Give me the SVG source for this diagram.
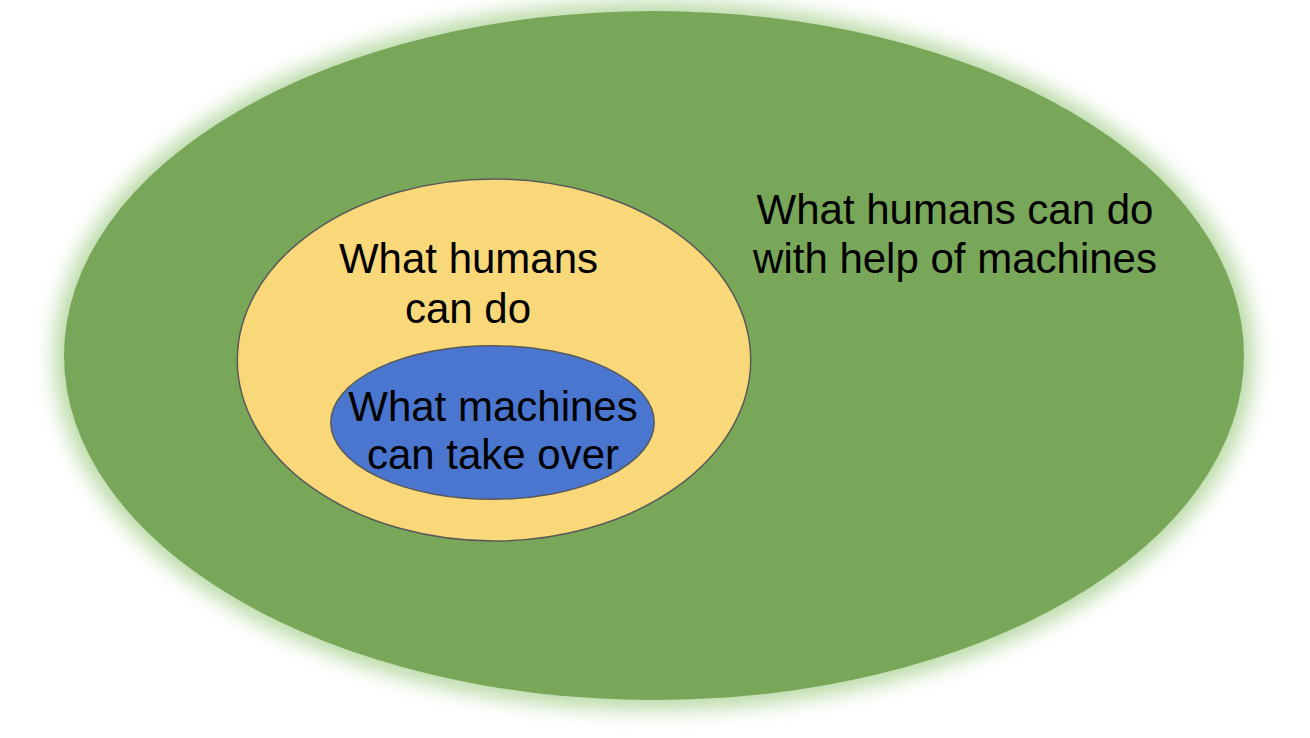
<svg xmlns="http://www.w3.org/2000/svg" width="1310" height="738" viewBox="0 0 1310 738">
  <defs>
    <filter id="glow" x="-10%" y="-10%" width="120%" height="120%">
      <feGaussianBlur stdDeviation="10"/>
    </filter>
  </defs>
  <style>
    .lbl { font-family: "Liberation Sans", Arial, sans-serif; font-size: 42px; fill: #000000; text-anchor: middle; }
    .edge { stroke: #595959; stroke-width: 1.5; }
  </style>
  <rect x="0" y="0" width="1310" height="738" fill="#ffffff"/>
  <g id="green-outer">
    <ellipse cx="654" cy="356" rx="600" ry="354" fill="#a9d191" opacity="0.8" filter="url(#glow)"/>
    <ellipse cx="654" cy="355.5" rx="590" ry="344.5" fill="#78a75a"/>
    <text class="lbl" x="955" y="224">What humans can do</text>
    <text class="lbl" x="955" y="273">with help of machines</text>
  </g>
  <g id="yellow-middle">
    <ellipse class="edge" cx="494" cy="360" rx="256.7" ry="181" fill="#f8d878"/>
    <text class="lbl" x="468.5" y="273">What humans</text>
    <text class="lbl" x="468" y="323">can do</text>
  </g>
  <g id="blue-inner">
    <ellipse class="edge" cx="492.5" cy="422.5" rx="161.7" ry="76.8" fill="#4a76cf"/>
    <text class="lbl" x="493" y="421">What machines</text>
    <text class="lbl" x="493" y="469">can take over</text>
  </g>
  <g id="connectors"/>
</svg>
